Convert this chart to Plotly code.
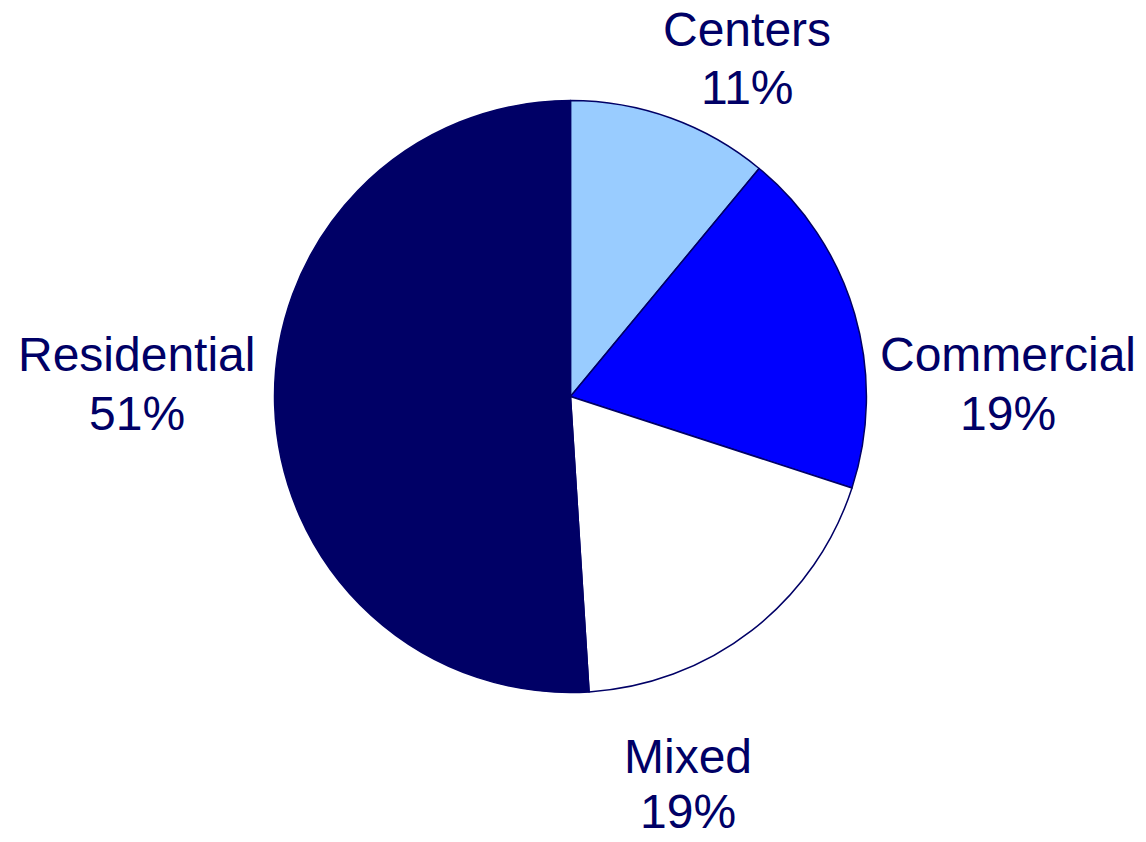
import plotly.graph_objects as go

# Land-use share by category
categories = ["Centers", "Commercial", "Mixed", "Residential"]
shares = [11, 19, 19, 51]
slice_colors = ["#99CCFF", "#0000FF", "#FFFFFF", "#000066"]

# Where each category's label lines sit (paper coordinates)
label_x = [0.652, 0.880, 0.600, 0.1195]
name_y = [0.9644, 0.5784, 0.1010, 0.5784]
pct_y = [0.8955, 0.5095, 0.0365, 0.5095]

text_color = "#000066"
font_family = "Liberation Sans, Arial, sans-serif"
label_font = dict(family=font_family, size=48, color=text_color)

fig = go.Figure(
    go.Pie(
        labels=categories,
        values=shares,
        sort=False,
        direction="clockwise",
        rotation=0,
        marker=dict(colors=slice_colors, line=dict(color="#000066", width=1.5)),
        textinfo="none",
        hoverinfo="label+percent",
        showlegend=False,
        domain=dict(x=[0.2395, 0.7561], y=[0.1776, 0.8806]),
    )
)

total = sum(shares)
for name, val, lx, ny, py in zip(categories, shares, label_x, name_y, pct_y):
    pct = round(100 * val / total)
    for text, ly in ((name, ny), (f"{pct}%", py)):
        fig.add_annotation(
            x=lx, y=ly, xref="paper", yref="paper",
            text=text,
            showarrow=False,
            xanchor="center", yanchor="middle",
            font=label_font,
        )

fig.update_layout(
    width=1146,
    height=842,
    margin=dict(l=0, r=0, t=0, b=0),
    paper_bgcolor="white",
    plot_bgcolor="white",
)

fig.write_html("out.html")
